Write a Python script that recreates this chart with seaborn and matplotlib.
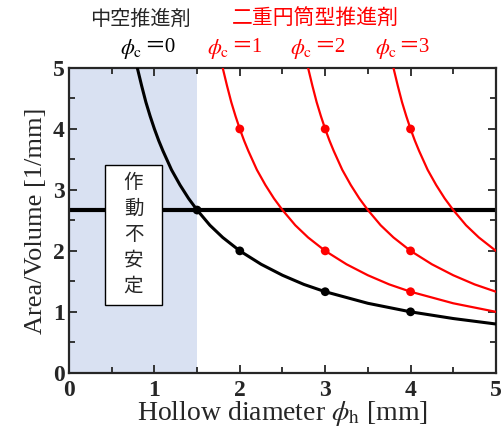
import pandas as pd
import matplotlib
matplotlib.use("Agg")
import matplotlib.pyplot as plt
from matplotlib.patches import Rectangle
import seaborn as sns

# values
# hollow propellant curve (phi_c = 0): gap = phi_h - phi_c, A/V
gap = [0.8, 0.85, 0.9, 0.95, 1.0, 1.05, 1.1, 1.2, 1.3, 1.4, 1.5, 1.65, 1.8,
       2.0, 2.25, 2.5, 2.75, 3.0, 3.5, 4.0, 4.5, 5.0]
area_vol = [5.0, 4.71, 4.44, 4.21, 4.0, 3.81, 3.64, 3.33, 3.08, 2.86, 2.67,
            2.42, 2.22, 2.0, 1.78, 1.6, 1.45, 1.33, 1.14, 1.0, 0.89, 0.8]
phi_c_list = [0, 1, 2, 3]
curve_colors = ["black", "red", "red", "red"]

# marked points
mark_black_x = [1.5, 2, 3, 4]
mark_black_y = [2.67, 2.0, 1.33, 1.0]
mark_red_x = [2, 3, 4, 3, 4, 4]
mark_red_y = [4.0, 2.0, 1.33, 4.0, 2.0, 4.0]

stable_limit = 2.67   # horizontal threshold
unstable_x = 1.5      # shaded region upper bound

sns.set_style("ticks")
plt.rcParams["font.family"] = ["Liberation Serif", "Noto Sans CJK JP"]
plt.rcParams["mathtext.fontset"] = "stix"

fig = plt.figure(figsize=(5.04, 4.36), dpi=100)
ax = fig.add_axes([0.137, 0.145, 0.847, 0.699])

ax.axvspan(0, unstable_x, color="#d9e1f2", zorder=0, lw=0)
ax.axhline(stable_limit, color="black", lw=3, zorder=2)

for pc, col in zip(phi_c_list, curve_colors):
    df = pd.DataFrame({"x": [g + pc for g in gap], "y": area_vol})
    df = df[df["x"] <= 5.0]
    sns.lineplot(data=df, x="x", y="y", ax=ax, color=col,
                 lw=2.2 if pc == 0 else 1.6, sort=False, estimator=None, zorder=3)

sns.scatterplot(x=mark_black_x, y=mark_black_y, ax=ax, color="black", s=40,
                edgecolor="none", zorder=4)
sns.scatterplot(x=mark_red_x, y=mark_red_y, ax=ax, color="red", s=40,
                edgecolor="none", zorder=4)

# unstable box
ax.add_patch(Rectangle((0.42, 1.11), 0.67, 2.3, facecolor="white",
                       edgecolor="black", lw=1.0, zorder=5))
ax.text(0.755, 2.27, "作\n動\n不\n安\n定", ha="center", va="center",
        fontsize=14, linespacing=1.3, family="Noto Sans CJK JP", zorder=6)

# annotations above the axes
ax.text(0.84, 5.8, "中空推進剤", ha="center", va="center", fontsize=14.5,
        family="Noto Sans CJK JP", clip_on=False)
ax.text(2.89, 5.8, "二重円筒型推進剤", ha="center", va="center", fontsize=15,
        color="red", family="Noto Sans CJK JP", clip_on=False)
lab_x = [0.86, 1.88, 2.85, 3.84]
for pc, lx, col in zip(phi_c_list, lab_x, curve_colors):
    ax.text(lx, 5.32, r"$\phi_{\rm c}$", ha="right", va="center",
            fontsize=16, color=col, clip_on=False)
    ax.text(lx + 0.02, 5.33, "＝" + str(pc), ha="left", va="center",
            fontsize=15, color=col, clip_on=False,
            family=["Liberation Serif", "Noto Sans CJK JP"])

ax.set_xlim(0, 5)
ax.set_ylim(0, 5)
ax.set_xticks([0, 1, 2, 3, 4, 5])
ax.set_yticks([0, 1, 2, 3, 4, 5])
ax.set_xticks([0.5, 1.5, 2.5, 3.5, 4.5], minor=True)
ax.set_yticks([0.5, 1.5, 2.5, 3.5, 4.5], minor=True)
ax.tick_params(which="both", direction="in", top=True, right=True, width=1.3)
ax.tick_params(which="major", length=6, labelsize=17)
ax.tick_params(axis="x", which="major", pad=5)
ax.tick_params(axis="y", which="major", pad=3)
ax.tick_params(which="minor", length=4)
for lab in ax.get_xticklabels() + ax.get_yticklabels():
    lab.set_fontweight("bold")
for sp in ax.spines.values():
    sp.set_linewidth(1.6)

ax.set_xlabel(r"Hollow diameter $\phi_{\rm h}$ [mm]", fontsize=20, labelpad=-1)
ax.set_ylabel("Area/Volume [1/mm]", fontsize=19, labelpad=4)

fig.savefig("out.png", dpi=100)
